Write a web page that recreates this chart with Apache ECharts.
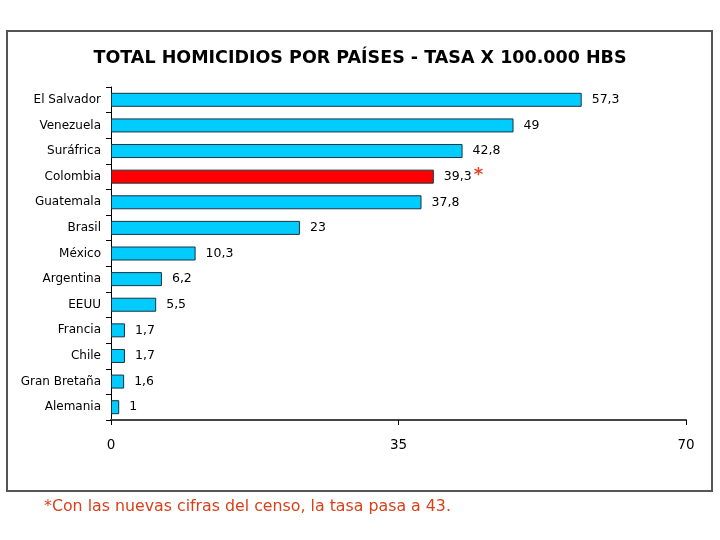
<!DOCTYPE html>
<html><head><meta charset="utf-8">
<script src="https://cdn.jsdelivr.net/npm/echarts@6/dist/echarts.min.js"></script>
<style>html,body{margin:0;padding:0;background:#fff}#c{width:720px;height:540px}</style>
</head><body><div id="c"></div>
<script>
const categories = ["El Salvador","Venezuela","Suráfrica","Colombia","Guatemala","Brasil","México","Argentina","EEUU","Francia","Chile","Gran Bretaña","Alemania"];
const values = [57.3,49,42.8,39.3,37.8,23,10.3,6.2,5.5,1.7,1.7,1.6,1];
const highlighted = "Colombia";
const xTicks = [0,35,70];
const titleText = "TOTAL HOMICIDIOS POR PAÍSES - TASA X 100.000 HBS";
const footnote = "*Con las nuevas cifras del censo, la tasa pasa a 43.";

const chart = echarts.init(document.getElementById('c'), null, {renderer:'canvas'});
const fmt = v => String(v).replace('.', ',');
const data = values.map((v,i)=>({
  value: v,
  itemStyle: {color: categories[i]===highlighted ? '#FF0000' : '#00CCFF'},
  label: categories[i]===highlighted ? {formatter: p => fmt(p.value) + '{s|*}'} : undefined
}));
chart.setOption({
  animation:false,
  title:{text:titleText,left:'center',top:44,textStyle:{fontFamily:'DejaVu Sans',fontWeight:'bold',fontSize:17.5,color:'#000'}},
  grid:{left:111,right:34,top:87,bottom:120,containLabel:false},
  xAxis:{type:'value',min:0,max:70,interval:35,
    axisLine:{show:true,lineStyle:{color:'#444',width:2}},
    axisTick:{show:true,length:5,lineStyle:{color:'#000'}},
    axisLabel:{margin:18,fontFamily:'DejaVu Sans',fontSize:13.5,color:'#000'},
    splitLine:{show:false}},
  yAxis:{type:'category',data:categories,inverse:true,
    axisLine:{show:true,lineStyle:{color:'#000',width:1}},
    axisTick:{show:true,length:5,lineStyle:{color:'#000'}},
    axisLabel:{margin:10,fontFamily:'DejaVu Sans',fontSize:12,color:'#000'}},
  series:[{type:'bar',data:data,barWidth:14,
    itemStyle:{borderColor:'#1a3340',borderWidth:1},
    label:{show:true,position:'right',distance:10,fontFamily:'DejaVu Sans',fontSize:12.5,color:'#000',
      formatter:p=>fmt(p.value),
      rich:{s:{color:'#E8461E',fontSize:18,fontWeight:'bold',verticalAlign:'top',padding:[0,0,2,2]}}}}],
  graphic:[
    {type:'rect',shape:{x:7,y:31,width:705,height:460},style:{fill:'none',stroke:'#555',lineWidth:2},silent:true},
    {type:'text',left:44,top:499,style:{text:footnote,fontFamily:'DejaVu Sans',fontSize:15.8,fill:'#D9401A'}}
  ]
});
</script></body></html>
